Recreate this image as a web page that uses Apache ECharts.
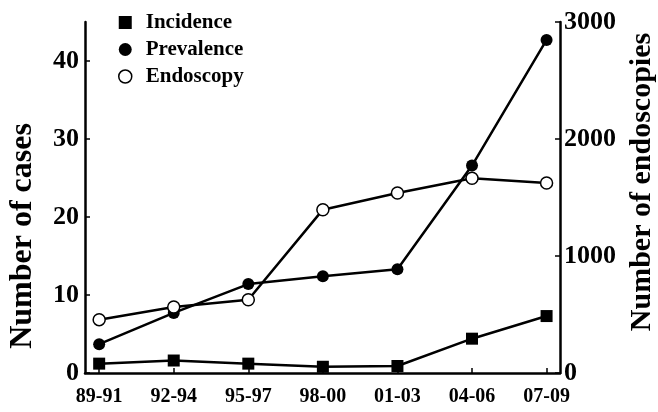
<!DOCTYPE html>
<html>
<head>
<meta charset="utf-8">
<script src="https://cdn.jsdelivr.net/npm/echarts@6/dist/echarts.min.js"></script>
<style>html,body{margin:0;padding:0;background:#fff;}#c{width:658px;height:412px;}</style>
</head>
<body>
<div id="c"></div>
<script>
var categories = ['89-91', '92-94', '95-97', '98-00', '01-03', '04-06', '07-09'];
var incidence = [1.2, 1.6, 1.2, 0.8, 0.9, 4.4, 7.3];
var prevalence = [3.7, 7.7, 11.4, 12.4, 13.3, 26.6, 42.7];
var endoscopy = [456, 564, 626, 1396, 1538, 1664, 1624];
var leftTicks = [0, 10, 20, 30, 40];
var rightTicks = [0, 1000, 2000, 3000];

function pairs(arr) { return arr.map(function (v, i) { return [i, v]; }); }
var idx = categories.map(function (c, i) { return i; });
var font = 'Liberation Serif';

var chart = echarts.init(document.getElementById('c'), null, { renderer: 'canvas' });
chart.setOption({
  animation: false,
  backgroundColor: '#fff',
  grid: { left: 85, right: 98, top: 22, bottom: 39, containLabel: false, outerBoundsMode: 'none' },
  legend: {
    orient: 'vertical', left: 113, top: 7, itemGap: 6, itemWidth: 13, itemHeight: 13,
    textStyle: { fontFamily: font, fontWeight: 'bold', fontSize: 21, color: '#000', lineHeight: 21, padding: [0, 0, 0, 9] },
    data: [
      { name: 'Incidence', icon: 'rect', itemStyle: { color: '#000' } },
      { name: 'Prevalence', icon: 'circle', itemStyle: { color: '#000' } },
      { name: 'Endoscopy', icon: 'circle', itemStyle: { color: '#fff', borderColor: '#000', borderWidth: 1.5 } }
    ]
  },
  xAxis: {
    type: 'value', min: -0.19, max: 6.18,
    axisLine: { onZero: false, lineStyle: { color: '#000', width: 2.5 } },
    axisTick: { inside: true, length: 5, customValues: idx, lineStyle: { color: '#000', width: 1.5 } },
    axisLabel: {
      customValues: idx, margin: 14, color: '#000', fontFamily: font, fontWeight: 'bold', fontSize: 20,
      formatter: function (v) { return categories[Math.round(v)]; }
    },
    splitLine: { show: false }
  },
  yAxis: [
    {
      type: 'value', min: 0, max: 45, position: 'left',
      axisLine: { show: true, onZero: false, lineStyle: { color: '#000', width: 2.5 } },
      axisTick: { show: true, inside: true, length: 5, customValues: leftTicks, lineStyle: { color: '#000', width: 1.5 } },
      axisLabel: { customValues: leftTicks, margin: 6, color: '#000', fontFamily: font, fontWeight: 'bold', fontSize: 26,
        formatter: function (v) { return String(v); } },
      splitLine: { show: false }
    },
    {
      type: 'value', min: 0, max: 3000, interval: 1000, position: 'right',
      axisLine: { show: true, onZero: false, lineStyle: { color: '#000', width: 2.5 } },
      axisTick: { show: true, inside: true, length: 5, customValues: rightTicks, lineStyle: { color: '#000', width: 1.5 } },
      axisLabel: { customValues: rightTicks, margin: 4, color: '#000', fontFamily: font, fontWeight: 'bold', fontSize: 26,
        formatter: function (v) { return String(v); } },
      splitLine: { show: false }
    }
  ],
  graphic: [
    { type: 'text', x: 23, y: 236, rotation: Math.PI / 2,
      style: { text: 'Number of cases', font: 'bold 32px "Liberation Serif"', fill: '#000', textAlign: 'center', textVerticalAlign: 'middle' } },
    { type: 'text', x: 642, y: 182, rotation: Math.PI / 2,
      style: { text: 'Number of endoscopies', font: 'bold 30px "Liberation Serif"', fill: '#000', textAlign: 'center', textVerticalAlign: 'middle' } }
  ],
  series: [
    { name: 'Incidence', type: 'line', yAxisIndex: 0, data: pairs(incidence), symbol: 'rect', symbolSize: 12,
      lineStyle: { color: '#000', width: 2.5 }, itemStyle: { color: '#000' } },
    { name: 'Prevalence', type: 'line', yAxisIndex: 0, data: pairs(prevalence), symbol: 'circle', symbolSize: 12,
      lineStyle: { color: '#000', width: 2.5 }, itemStyle: { color: '#000' } },
    { name: 'Endoscopy', type: 'line', yAxisIndex: 1, data: pairs(endoscopy), symbol: 'circle', symbolSize: 12,
      lineStyle: { color: '#000', width: 2.5 }, itemStyle: { color: '#fff', borderColor: '#000', borderWidth: 1.5 } }
  ]
});
</script>
</body>
</html>
